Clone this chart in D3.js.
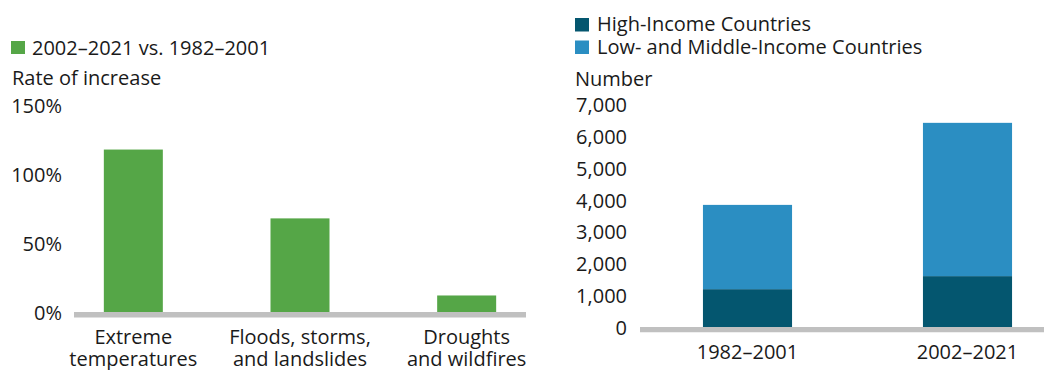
<!DOCTYPE html>
<html>
<head>
<meta charset="utf-8">
<script src="https://cdn.jsdelivr.net/npm/d3@7"></script>
<style>
  html, body { margin: 0; padding: 0; background: #fff; }
  svg text { font-family: "Open Sans", "Noto Sans", sans-serif; fill: #1a1a1a; }
</style>
</head>
<body>
<svg id="chart" width="1044" height="370"></svg>
<script>
// Rate of increase in disaster events, 2002–2021 vs. 1982–2001
const hazardCategories = [["Extreme", "temperatures"], ["Floods, storms,", "and landslides"], ["Droughts", "and wildfires"]];
const increasePct = [118, 68, 12];
const pctTicks = [0, 50, 100, 150];

// Number of disasters by country income group
const periods = ["1982–2001", "2002–2021"];
const highIncome = [1190, 1600];
const lowMiddleIncome = [2650, 4820];
const countTicks = [0, 1000, 2000, 3000, 4000, 5000, 6000, 7000];
const seriesNames = ["High-Income Countries", "Low- and Middle-Income Countries"];

const GREEN = "#55a647", DARK = "#04566f", BLUE = "#2b8ec2", AXIS = "#c0c0c0";
const FS = 20;

const svg = d3.select("#chart");

// ---------- Left panel ----------
const left = svg.append("g");

left.append("rect").attr("x", 11).attr("y", 41).attr("width", 14).attr("height", 13).attr("fill", GREEN);
left.append("text").attr("x", 32).attr("y", 55).attr("font-size", FS).text("2002–2021 vs. 1982–2001");
left.append("text").attr("x", 12).attr("y", 85).attr("font-size", FS).text("Rate of increase");

const xL = d3.scaleBand()
  .domain(hazardCategories.map(d => d.join(" ")))
  .range([50, 550])
  .paddingInner(0.646)
  .paddingOuter(0.323);
const yL = d3.scaleLinear().domain([0, 150]).range([312, 105.5]);

const yAxisL = d3.axisLeft(yL).tickValues(pctTicks).tickFormat(d => d + "%").tickSize(0).tickPadding(0);
left.append("g").attr("transform", "translate(62,0)").call(yAxisL)
  .call(g => g.select(".domain").remove())
  .call(g => g.selectAll("text").attr("font-size", FS).attr("font-family", null).attr("dy", "0.36em"));

left.selectAll("rect.bar").data(increasePct).join("rect")
  .attr("class", "bar")
  .attr("x", (d, i) => xL(hazardCategories[i].join(" ")))
  .attr("width", xL.bandwidth())
  .attr("y", d => yL(d))
  .attr("height", d => yL(0) - yL(d))
  .attr("fill", GREEN);

left.append("line").attr("x1", 74).attr("x2", 526)
  .attr("y1", yL(0) + 2.7).attr("y2", yL(0) + 2.7)
  .attr("stroke", AXIS).attr("stroke-width", 5.4);

const catLabels = left.selectAll("text.cat").data(hazardCategories).join("text")
  .attr("class", "cat")
  .attr("text-anchor", "middle")
  .attr("font-size", FS)
  .attr("x", d => xL(d.join(" ")) + xL.bandwidth() / 2)
  .attr("y", 344);
catLabels.selectAll("tspan").data(d => d).join("tspan")
  .attr("x", function () { return d3.select(this.parentNode).attr("x"); })
  .attr("dy", (d, i) => i === 0 ? 0 : 22)
  .text(d => d);

// ---------- Right panel ----------
const right = svg.append("g");
const colors = [DARK, BLUE];

seriesNames.forEach((name, i) => {
  right.append("rect").attr("x", 575).attr("y", 18 + i * 22.5).attr("width", 14).attr("height", 13.5).attr("fill", colors[i]);
  right.append("text").attr("x", 597).attr("y", 31 + i * 23).attr("font-size", FS).text(name);
});
right.append("text").attr("x", 575).attr("y", 86).attr("font-size", FS).text("Number");

const xR = d3.scaleBand().domain(periods).range([637.5, 1077.5])
  .paddingInner(0.595)
  .paddingOuter(0.2975);
const yR = d3.scaleLinear().domain([0, 7000]).range([327, 104.4]);

const yAxisR = d3.axisLeft(yR).tickValues(countTicks).tickFormat(d3.format(",")).tickSize(0).tickPadding(0);
right.append("g").attr("transform", "translate(627,0)").call(yAxisR)
  .call(g => g.select(".domain").remove())
  .call(g => g.selectAll("text").attr("font-size", FS).attr("font-family", null).attr("dy", "0.36em"));

const stackData = periods.map((p, i) => ({ period: p, high: highIncome[i], low: lowMiddleIncome[i] }));
const stacked = d3.stack().keys(["high", "low"])(stackData);

right.selectAll("g.layer").data(stacked).join("g")
  .attr("class", "layer")
  .attr("fill", (d, i) => colors[i])
  .selectAll("rect").data(d => d).join("rect")
  .attr("x", d => xR(d.data.period))
  .attr("width", xR.bandwidth())
  .attr("y", d => yR(d[1]))
  .attr("height", d => yR(d[0]) - yR(d[1]));

right.append("line").attr("x1", 640).attr("x2", 1044)
  .attr("y1", yR(0) + 2.6).attr("y2", yR(0) + 2.6)
  .attr("stroke", AXIS).attr("stroke-width", 5.2);

right.selectAll("text.period").data(periods).join("text")
  .attr("class", "period")
  .attr("text-anchor", "middle")
  .attr("font-size", FS)
  .attr("x", d => xR(d) + xR.bandwidth() / 2)
  .attr("y", 359)
  .text(d => d);
</script>
</body>
</html>
